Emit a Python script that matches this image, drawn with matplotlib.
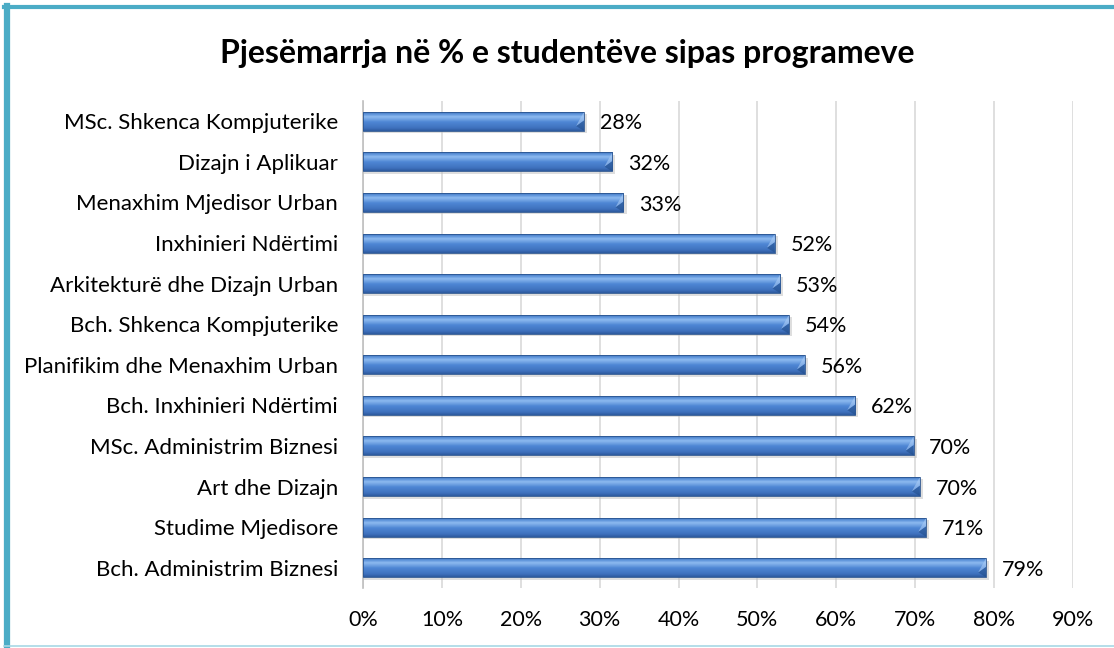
import matplotlib
matplotlib.use("Agg")
import matplotlib.pyplot as plt
import numpy as np
from matplotlib.colors import LinearSegmentedColormap
from matplotlib.patches import Rectangle

plt.rcParams['font.family'] = ['Lato', 'DejaVu Sans']

# data, top to bottom as in the chart
programs = ["MSc. Shkenca Kompjuterike", "Dizajn i Aplikuar", "Menaxhim Mjedisor Urban",
            "Inxhinieri Ndërtimi", "Arkitekturë dhe Dizajn Urban", "Bch. Shkenca Kompjuterike",
            "Planifikim dhe Menaxhim Urban", "Bch. Inxhinieri Ndërtimi", "MSc. Administrim Biznesi",
            "Art dhe Dizajn", "Studime Mjedisore", "Bch. Administrim Biznesi"]
values = [28.0, 31.6, 33.0, 52.2, 52.9, 54.0, 56.0, 62.4, 69.8, 70.6, 71.4, 79.0]
labels = ["28%", "32%", "33%", "52%", "53%", "54%", "56%", "62%", "70%", "70%", "71%", "79%"]
ticks = [0, 10, 20, 30, 40, 50, 60, 70, 80, 90]

fig = plt.figure(figsize=(11.14, 6.48), dpi=100)
ax = fig.add_axes([0.326, 0.0926, 0.637, 0.7515])

pos = np.arange(len(programs))[::-1]
bars = ax.barh(pos, values, height=0.47, color="#4F81BD", zorder=2)

# gradient fill for the glossy look
grad = LinearSegmentedColormap.from_list("g", [
    (0.0, "#2D5A9E"), (0.15, "#3F72BE"), (0.45, "#4E86D4"),
    (0.72, "#8EBBF0"), (0.85, "#5C93DA"), (1.0, "#3868B0")])
g = np.linspace(0, 1, 64).reshape(-1, 1)
for b in bars:
    x0, y0, w, h = b.get_x(), b.get_y(), b.get_width(), b.get_height()
    # soft shadow
    ax.add_patch(Rectangle((x0, y0 - 0.06), w + 0.4, h, color="#BFBFBF", alpha=0.5, zorder=1, lw=0))
    im = ax.imshow(g, cmap=grad, aspect="auto", extent=(x0, x0 + w, y0, y0 + h),
                   origin="lower", zorder=3, interpolation="bilinear")
    im.set_clip_path(b)
    # bevel on the right end
    bw = 1.0
    ax.fill([x0 + w - bw, x0 + w, x0 + w], [y0 + h * 0.25, y0, y0 + h * 0.55],
            color="#1F4A85", alpha=0.55, zorder=4, lw=0)
    ax.fill([x0 + w - bw, x0 + w, x0 + w], [y0 + h * 0.25, y0 + h, y0 + h * 0.55],
            color="#A9CBF5", alpha=0.6, zorder=4, lw=0)
    ax.add_patch(Rectangle((x0, y0), w, h, fill=False, ec="#2B5590", lw=0.6, zorder=5))

for p, v, lab in zip(pos, values, labels):
    ax.text(v + 2.0, p - 0.05, lab, va="center", ha="left", fontsize=15.5, color="#000000")

ax.set_xlim(0, 90)
ax.set_ylim(-0.5, len(programs) - 0.5)
ax.set_xticks(ticks)
ax.set_xticklabels([str(t) + "%" for t in ticks], fontsize=15.5)
ax.set_yticks(pos)
ax.set_yticklabels(programs, fontsize=16)
ax.tick_params(axis="both", length=0)
ax.tick_params(axis="y", pad=18)
ax.tick_params(axis="x", pad=16)
ax.xaxis.grid(True, color="#D9D9D9", lw=1.2, zorder=0)
ax.set_axisbelow(True)
for s in ["top", "right", "bottom"]:
    ax.spines[s].set_visible(False)
ax.spines["left"].set_color("#BFBFBF")
ax.spines["left"].set_linewidth(1.2)

fig.text(0.509, 0.918, "Pjesëmarrja në % e studentëve sipas programeve",
         ha="center", va="center", fontsize=23, fontweight="bold")

# frame around the chart
fig.add_artist(plt.Line2D([0.0065, 0.0065], [0, 0.99], transform=fig.transFigure, color="#4BACC6", lw=4.5))
fig.add_artist(plt.Line2D([0.004, 1.0], [0.9895, 0.9895], transform=fig.transFigure, color="#4BACC6", lw=3))
fig.add_artist(plt.Line2D([0.004, 1.0], [0.003, 0.003], transform=fig.transFigure, color="#A8D8E5", lw=1.2))

fig.savefig("out.png", dpi=100)
